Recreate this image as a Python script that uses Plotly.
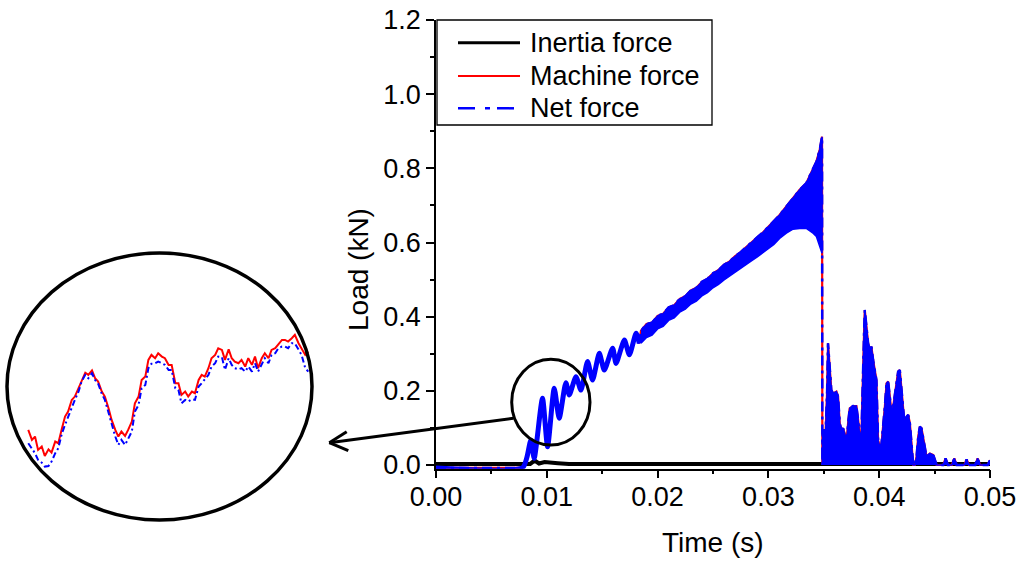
import plotly.graph_objects as go

# ---------------- data ----------------
# Inertia force (kN) vs time (s)
t_inertia = [0.0, 0.0085, 0.0089, 0.0093, 0.0098, 0.0103, 0.0110, 0.0120, 0.0349, 0.0500]
inertia_force = [0.003, 0.003, 0.012, 0.004, 0.008, 0.006, 0.005, 0.003, 0.003, 0.003]

# Initial loading with low-frequency ringing (kN)
t_rise = [0.0, 0.0078, 0.0082, 0.00856, 0.00886, 0.00961, 0.01007, 0.01067, 0.01112,
          0.01172, 0.01203, 0.01263, 0.01308, 0.01368, 0.01413, 0.01474, 0.01519,
          0.01594, 0.01625, 0.01700, 0.01745, 0.01806, 0.01835]
load_rise = [-0.008, -0.008, 0.020, 0.067, 0.018, 0.180, 0.049, 0.207, 0.126,
             0.222, 0.189, 0.238, 0.202, 0.279, 0.229, 0.301, 0.256,
             0.315, 0.274, 0.337, 0.297, 0.355, 0.328]

# Dense oscillation band during the linear ramp: upper / lower envelope (kN)
t_band = [0.0185, 0.0190, 0.0195, 0.0200, 0.0205, 0.0210, 0.0215, 0.0220, 0.0225,
          0.0230, 0.0235, 0.0240, 0.0245, 0.0250, 0.0255, 0.0260, 0.0265, 0.0270,
          0.0275, 0.0280, 0.0285, 0.0290, 0.0295, 0.0300, 0.0305, 0.03101, 0.03162,
          0.03222, 0.03282, 0.03342, 0.03403, 0.03433, 0.03463, 0.03484]
band_upper = [0.362, 0.380, 0.384, 0.402, 0.408, 0.425, 0.431, 0.448, 0.455,
              0.471, 0.478, 0.494, 0.502, 0.517, 0.526, 0.540, 0.549, 0.563,
              0.574, 0.588, 0.600, 0.614, 0.627, 0.642, 0.656, 0.674, 0.697,
              0.719, 0.742, 0.760, 0.796, 0.818, 0.850, 0.885]
band_lower = [0.328, 0.344, 0.350, 0.367, 0.374, 0.390, 0.397, 0.412, 0.420,
              0.434, 0.442, 0.456, 0.465, 0.478, 0.487, 0.499, 0.509, 0.520,
              0.530, 0.541, 0.551, 0.561, 0.572, 0.583, 0.595, 0.611, 0.625,
              0.636, 0.638, 0.638, 0.625, 0.616, 0.589, 0.571]

# Post-failure bursts: upper envelope (kN)
t_burst = [0.03487, 0.0349, 0.03517, 0.0353, 0.03538, 0.03553, 0.03568, 0.03583, 0.03614,
           0.03629, 0.03644, 0.03659, 0.03674, 0.03689, 0.03704, 0.03719, 0.03734, 0.03764,
           0.03794, 0.0381, 0.03825, 0.0384, 0.03849, 0.03864, 0.0387, 0.03885, 0.039,
           0.03915, 0.0393, 0.03945, 0.0396, 0.03975, 0.0399, 0.04005, 0.04021, 0.04036,
           0.04051, 0.04066, 0.04081, 0.04096, 0.04111, 0.04126, 0.04141, 0.04156, 0.04171,
           0.04186, 0.04201, 0.04216, 0.04231, 0.04247, 0.04262, 0.04277, 0.04292, 0.04307,
           0.04322, 0.04337, 0.04352, 0.04367, 0.04382, 0.04397, 0.04412, 0.04427, 0.04458,
           0.04488, 0.04518, 0.04578, 0.04599, 0.0462, 0.04656, 0.04678, 0.04699, 0.04768,
           0.04789, 0.0481, 0.04867, 0.04888, 0.0491, 0.04979, 0.05]
load_burst = [0.0, 0.094, 0.094, 0.200, 0.328, 0.261, 0.202, 0.193, 0.198,
              0.184, 0.112, 0.094, 0.099, 0.085, 0.058, 0.112, 0.153, 0.159,
              0.159, 0.121, 0.076, 0.085, 0.229, 0.364, 0.418, 0.364, 0.328,
              0.310, 0.319, 0.283, 0.256, 0.229, 0.067, 0.049, 0.058, 0.103,
              0.157, 0.220, 0.225, 0.184, 0.139, 0.157, 0.193, 0.229, 0.252,
              0.256, 0.202, 0.139, 0.103, 0.130, 0.135, 0.112, 0.058, 0.0,
              0.0, 0.022, 0.076, 0.103, 0.099, 0.076, 0.049, 0.022, 0.031,
              0.027, 0.0, 0.0, 0.018, 0.0, 0.0, 0.018, 0.0, 0.0,
              0.015, 0.0, 0.0, 0.018, 0.0, 0.0, 0.013]

# Magnified inset (time in ms, load in kN)
inset_t_ms = [8.76, 8.82, 8.87, 8.92, 8.98, 9.03, 9.09, 9.14, 9.20, 9.25,
              9.31, 9.36, 9.41, 9.47, 9.52, 9.58, 9.63, 9.69, 9.74, 9.80,
              9.85, 9.90, 9.96, 10.01, 10.07, 10.12, 10.18, 10.23, 10.28, 10.34,
              10.39, 10.45, 10.50, 10.56, 10.61, 10.67, 10.72, 10.77, 10.83, 10.88,
              10.94, 10.99, 11.05, 11.10, 11.16, 11.21, 11.26, 11.32, 11.37, 11.43,
              11.48, 11.54, 11.59, 11.64, 11.70, 11.75, 11.81, 11.86, 11.92, 11.97,
              12.03, 12.08, 12.13, 12.19, 12.24, 12.30, 12.35, 12.41, 12.46, 12.51,
              12.57, 12.62, 12.68, 12.73, 12.79, 12.84, 12.90, 12.95, 13.00, 13.06,
              13.11, 13.17, 13.22, 13.28, 13.33]
inset_machine = [0.077, 0.059, 0.065, 0.041, 0.047, 0.030, 0.042, 0.036, 0.056, 0.053,
                 0.080, 0.101, 0.110, 0.131, 0.137, 0.152, 0.167, 0.180, 0.176, 0.184,
                 0.170, 0.164, 0.146, 0.137, 0.116, 0.095, 0.077, 0.065, 0.074, 0.066,
                 0.077, 0.092, 0.125, 0.137, 0.167, 0.173, 0.203, 0.212, 0.206, 0.215,
                 0.209, 0.206, 0.194, 0.194, 0.161, 0.161, 0.140, 0.146, 0.137, 0.146,
                 0.143, 0.167, 0.176, 0.173, 0.188, 0.206, 0.212, 0.224, 0.221, 0.203,
                 0.222, 0.206, 0.200, 0.197, 0.203, 0.191, 0.206, 0.194, 0.209, 0.188,
                 0.206, 0.215, 0.206, 0.221, 0.224, 0.230, 0.239, 0.239, 0.236, 0.242,
                 0.248, 0.233, 0.224, 0.212, 0.218]
inset_net = [0.053, 0.044, 0.035, 0.023, 0.018, 0.011, 0.012, 0.020, 0.035, 0.044,
             0.071, 0.086, 0.101, 0.116, 0.131, 0.146, 0.164, 0.176, 0.170, 0.179,
             0.167, 0.160, 0.142, 0.131, 0.107, 0.086, 0.065, 0.050, 0.059, 0.050,
             0.060, 0.074, 0.110, 0.122, 0.152, 0.158, 0.188, 0.196, 0.197, 0.200,
             0.197, 0.194, 0.185, 0.185, 0.152, 0.149, 0.125, 0.131, 0.128, 0.132,
             0.131, 0.155, 0.161, 0.167, 0.176, 0.191, 0.197, 0.209, 0.208, 0.185,
             0.206, 0.194, 0.188, 0.186, 0.188, 0.182, 0.191, 0.182, 0.197, 0.182,
             0.194, 0.206, 0.197, 0.212, 0.215, 0.224, 0.227, 0.227, 0.224, 0.233,
             0.233, 0.221, 0.212, 0.188, 0.182]

series_names = ["Inertia force", "Machine force", "Net force"]
x_ticks = [0.00, 0.01, 0.02, 0.03, 0.04, 0.05]
y_ticks = [0.0, 0.2, 0.4, 0.6, 0.8, 1.0, 1.2]

# ---------------- helpers for layout positions (pixels -> paper) ----------------
W, H = 1024, 567
def px(x):
    return x / W
def py(y):
    return (H - y) / H

RED = "#FF0000"
BLUE = "#0000FF"
FONT = "Arial, Liberation Sans, sans-serif"

machine_t = t_rise + t_band + t_burst
machine_load = load_rise + band_upper + load_burst
net_t = t_rise + t_band + t_burst
net_load = load_rise + band_upper + load_burst

fig = go.Figure()

fig.add_trace(go.Scatter(x=t_inertia, y=inertia_force, mode="lines", name=series_names[0],
                         line=dict(color="black", width=4), showlegend=False))
fig.add_trace(go.Scatter(x=machine_t, y=machine_load, mode="lines", name=series_names[1],
                         line=dict(color=RED, width=2.2), showlegend=False))
fig.add_trace(go.Scatter(x=t_band + t_band[::-1], y=band_upper + band_lower[::-1],
                         mode="lines", fill="toself", fillcolor=BLUE,
                         line=dict(color=BLUE, width=1.5), showlegend=False,
                         hoverinfo="skip"))
fig.add_trace(go.Scatter(x=t_burst, y=load_burst, mode="lines", fill="tozeroy",
                         fillcolor=BLUE, line=dict(color=BLUE, width=1.5),
                         showlegend=False, hoverinfo="skip"))
fig.add_trace(go.Scatter(x=t_rise, y=load_rise, mode="lines",
                         line=dict(color=BLUE, width=5, shape="spline", smoothing=0.6),
                         showlegend=False, hoverinfo="skip"))
fig.add_trace(go.Scatter(x=net_t, y=net_load, mode="lines", name=series_names[2],
                         line=dict(color=BLUE, width=2.5, dash="10px,5px,3px,5px"),
                         showlegend=False))

# inset traces
fig.add_trace(go.Scatter(x=inset_t_ms, y=inset_machine, mode="lines", xaxis="x2", yaxis="y2",
                         line=dict(color=RED, width=2), showlegend=False))
fig.add_trace(go.Scatter(x=inset_t_ms, y=inset_net, mode="lines", xaxis="x2", yaxis="y2",
                         line=dict(color=BLUE, width=2, dash="6px,3px,2px,3px"),
                         showlegend=False))

axis_common = dict(showgrid=False, zeroline=False, showline=True, linecolor="black",
                   linewidth=1.5, tickcolor="black", tickwidth=1.5, automargin=False)

fig.update_layout(
    template="none",
    width=W, height=H, autosize=False,
    margin=dict(l=0, r=0, t=0, b=0, pad=0, autoexpand=False),
    paper_bgcolor="white", plot_bgcolor="white",
    font=dict(family=FONT, color="black", size=27),
    showlegend=False,
    xaxis=dict(domain=[px(436), px(990)], range=[0, 0.05], anchor="y",
               tickmode="array", tickvals=x_ticks, ticktext=[f"{v:.2f}" for v in x_ticks],
               ticks="outside", ticklen=8, ticklabelstandoff=-5,
               minor=dict(dtick=0.005, tick0=0, ticks="outside", ticklen=4,
                          tickwidth=1.5, tickcolor="black", showgrid=False),
               tickfont=dict(size=27), **axis_common),
    yaxis=dict(domain=[py(468.7), py(20)], range=[-0.01, 1.2], anchor="x",
               tickmode="array", tickvals=y_ticks, ticktext=[f"{v:.1f}" for v in y_ticks],
               ticks="outside", ticklen=8,
               minor=dict(dtick=0.1, tick0=0, ticks="outside", ticklen=4,
                          tickwidth=1.5, tickcolor="black", showgrid=False),
               tickfont=dict(size=27), **axis_common),
    xaxis3=dict(overlaying="x", side="top", anchor="y", range=[0, 0.05],
                tickmode="array", tickvals=x_ticks, ticks="inside", ticklen=8,
                showticklabels=False,
                minor=dict(dtick=0.005, tick0=0, ticks="inside", ticklen=4,
                           tickwidth=1.5, tickcolor="black", showgrid=False),
                **axis_common),
    yaxis3=dict(overlaying="y", side="right", anchor="x", range=[-0.01, 1.2],
                tickmode="array", tickvals=y_ticks, ticks="inside", ticklen=8,
                showticklabels=False,
                minor=dict(dtick=0.1, tick0=0, ticks="inside", ticklen=4,
                           tickwidth=1.5, tickcolor="black", showgrid=False),
                **axis_common),
    xaxis2=dict(domain=[px(7), px(312)], range=[8.413, 13.390], anchor="y2",
                visible=False, automargin=False),
    yaxis2=dict(domain=[py(520), py(253)], range=[-0.0852, 0.3954], anchor="x2",
                visible=False, automargin=False),
)

shapes = []
# legend box and samples
shapes.append(dict(type="rect", xref="paper", yref="paper", x0=px(437), x1=px(712),
                   y0=py(125), y1=py(20), line=dict(color="black", width=1.3),
                   fillcolor="white", layer="above"))
legend_rows = [42.7, 76.0, 108.3]
legend_styles = [dict(color="black", width=3),
                 dict(color=RED, width=2.2),
                 dict(color=BLUE, width=2.5, dash="17px,10px,5px,7px")]
for ry, st in zip(legend_rows, legend_styles):
    shapes.append(dict(type="line", xref="paper", yref="paper", x0=px(458),
                       x1=px(514 if "dash" in st else 520),
                       y0=py(ry), y1=py(ry), line=st, layer="above"))
# small circle around the magnified region
shapes.append(dict(type="circle", xref="paper", yref="paper", x0=px(511.7), x1=px(590),
                   y0=py(445), y1=py(359.3), line=dict(color="black", width=3), layer="above"))
# large ellipse for the inset
shapes.append(dict(type="circle", xref="paper", yref="paper", x0=px(7), x1=px(312),
                   y0=py(520), y1=py(253), line=dict(color="black", width=3.5), layer="above"))
# arrow
for (x0, y0, x1, y1) in [(513.3, 418.3, 329.3, 442.7), (329.3, 442.7, 346.7, 431.7),
                         (329.3, 442.7, 348.3, 450.7)]:
    shapes.append(dict(type="line", xref="paper", yref="paper", x0=px(x0), y0=py(y0),
                       x1=px(x1), y1=py(y1), line=dict(color="black", width=3), layer="above"))
fig.update_layout(shapes=shapes)

annotations = []
for ry, name in zip(legend_rows, series_names):
    annotations.append(dict(text=name, xref="paper", yref="paper", x=px(528), y=py(ry),
                            xanchor="left", yanchor="middle", showarrow=False,
                            font=dict(size=27, family=FONT, color="black")))
annotations.append(dict(text="Time (s)", xref="paper", yref="paper", x=px(713), y=py(542),
                        xanchor="center", yanchor="middle", showarrow=False,
                        font=dict(size=28, family=FONT, color="black")))
annotations.append(dict(text="Load (kN)", xref="paper", yref="paper", x=px(358), y=py(270),
                        xanchor="center", yanchor="middle", showarrow=False, textangle=-90,
                        font=dict(size=28, family=FONT, color="black")))
fig.update_layout(annotations=annotations)

fig.write_html("out.html")
